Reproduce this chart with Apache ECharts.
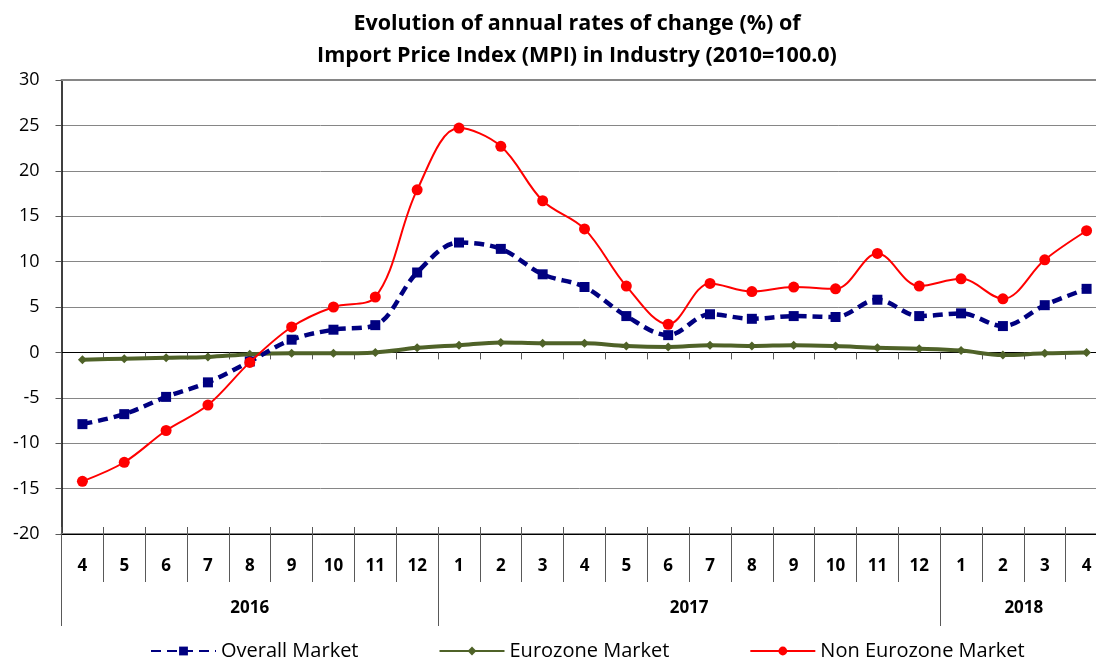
<!DOCTYPE html>
<html>
<head>
<meta charset="utf-8">
<script src="https://cdn.jsdelivr.net/npm/echarts@6/dist/echarts.min.js"></script>
<style>
html,body{margin:0;padding:0;background:#fff;}
#main{width:1096px;height:666px;}
</style>
</head>
<body>
<div id="main"></div>
<script>
// categories: months Apr 2016 - Apr 2018
var months = ['4','5','6','7','8','9','10','11','12',
              '1','2','3','4','5','6','7','8','9','10','11','12',
              '1','2','3','4'];
var years = ['2016', '2017', '2018'];
var yearSizes = [9, 12, 4];

// annual rates of change (%)
var overall     = [-7.9, -6.8, -4.9, -3.3, -1.0, 1.4, 2.5, 3.0, 8.8,
                   12.1, 11.4, 8.6, 7.2, 4.0, 1.9, 4.2, 3.7, 4.0, 3.9, 5.8, 4.0,
                   4.3, 2.9, 5.2, 7.0];
var eurozone    = [-0.8, -0.7, -0.6, -0.5, -0.2, -0.1, -0.1, 0.0, 0.5,
                   0.8, 1.1, 1.0, 1.0, 0.7, 0.6, 0.8, 0.7, 0.8, 0.7, 0.5, 0.4,
                   0.2, -0.3, -0.1, 0.0];
var nonEurozone = [-14.2, -12.1, -8.6, -5.8, -1.1, 2.8, 5.0, 6.1, 17.9,
                   24.7, 22.7, 16.7, 13.6, 7.3, 3.1, 7.6, 6.7, 7.2, 7.0, 10.9, 7.3,
                   8.1, 5.9, 10.2, 13.4];

var yMin = -20, yMax = 30, yStep = 5;

// year group boundaries and centres on the category scale
var yearStarts = [], yearMids = [], acc = 0;
yearSizes.forEach(function (n) {
    yearStarts.push(acc);
    yearMids.push(acc + n / 2);
    acc += n;
});

var font = '"Open Sans", Lato, sans-serif';
var chart = echarts.init(document.getElementById('main'));

chart.setOption({
    animation: false,
    title: {
        text: 'Evolution of annual rates of change (%) of\nImport Price Index (MPI) in Industry (2010=100.0)',
        left: 572,
        textAlign: 'center',
        top: 3,
        textStyle: {fontFamily: font, fontSize: 21.5, fontWeight: 'bold', color: '#000', lineHeight: 32}
    },
    legend: {
        bottom: 0,
        left: 145,
        itemWidth: 65,
        itemHeight: 11,
        itemGap: 80,
        textStyle: {fontFamily: font, fontSize: 20, color: '#000'},
        data: ['Overall Market', 'Eurozone Market', 'Non Eurozone Market']
    },
    // plot runs past the right edge of the picture, as in the original
    grid: {left: 61.5, width: 1046, top: 80, bottom: 132, outerBoundsMode: 'none'},
    xAxis: [
        { // month labels, bottom line
            type: 'category',
            data: months,
            position: 'bottom',
            axisLine: {onZero: false, lineStyle: {color: '#868686', width: 2}},
            axisTick: {show: true, interval: 0, length: 48, lineStyle: {color: '#595959'}},
            axisLabel: {interval: 0, margin: 24, fontFamily: font, fontSize: 17, fontWeight: 'bold', color: '#000'},
            splitLine: {show: false}
        },
        { // year labels and separators
            type: 'value',
            min: 0,
            max: months.length,
            position: 'bottom',
            axisLine: {show: false, onZero: false},
            axisTick: {show: true, customValues: yearStarts, length: 92, lineStyle: {color: '#595959'}},
            axisLabel: {
                customValues: yearMids, margin: 66,
                fontFamily: font, fontSize: 17, fontWeight: 'bold', color: '#000',
                formatter: function (v) { return years[yearMids.indexOf(v)]; }
            },
            splitLine: {show: false}
        },
        { // zero line, ticks below
            type: 'category',
            data: months,
            position: 'bottom',
            axisLine: {onZero: true, lineStyle: {color: '#000', width: 1}},
            axisTick: {show: true, interval: 0, length: 7, lineStyle: {color: '#595959'}},
            axisLabel: {show: false},
            splitLine: {show: false}
        },
        { // zero line, ticks above
            type: 'category',
            data: months,
            position: 'bottom',
            axisLine: {onZero: true, lineStyle: {color: '#000', width: 1}},
            axisTick: {show: true, inside: true, interval: 0, length: 7, lineStyle: {color: '#595959'}},
            axisLabel: {show: false},
            splitLine: {show: false}
        },
        { // top border
            type: 'category',
            data: months,
            position: 'top',
            axisLine: {onZero: false, lineStyle: {color: '#868686', width: 2}},
            axisTick: {show: false},
            axisLabel: {show: false},
            splitLine: {show: false}
        }
    ],
    yAxis: {
        type: 'value',
        min: yMin,
        max: yMax,
        interval: yStep,
        axisLine: {show: true, onZero: false, lineStyle: {color: '#000', width: 1.5}},
        axisTick: {show: true, length: 6, lineStyle: {color: '#595959'}},
        axisLabel: {margin: 22, fontFamily: font, fontSize: 18, color: '#000'},
        splitLine: {show: true, lineStyle: {color: '#868686', width: 1}}
    },
    series: [
        {
            name: 'Overall Market',
            type: 'line',
            xAxisIndex: 0,
            data: overall,
            smooth: 0.35,
            symbol: 'rect',
            symbolSize: 10,
            color: '#000080',
            lineStyle: {width: 4.5, type: [10, 6], color: '#000080'},
            z: 4
        },
        {
            name: 'Eurozone Market',
            type: 'line',
            xAxisIndex: 0,
            data: eurozone,
            smooth: 0.35,
            symbol: 'diamond',
            symbolSize: 9,
            color: '#4F6228',
            lineStyle: {width: 4, color: '#4F6228'},
            z: 3
        },
        {
            name: 'Non Eurozone Market',
            type: 'line',
            xAxisIndex: 0,
            data: nonEurozone,
            smooth: 0.35,
            symbol: 'circle',
            symbolSize: 11,
            color: '#FF0000',
            lineStyle: {width: 2, color: '#FF0000'},
            z: 5
        }
    ]
});
</script>
</body>
</html>
